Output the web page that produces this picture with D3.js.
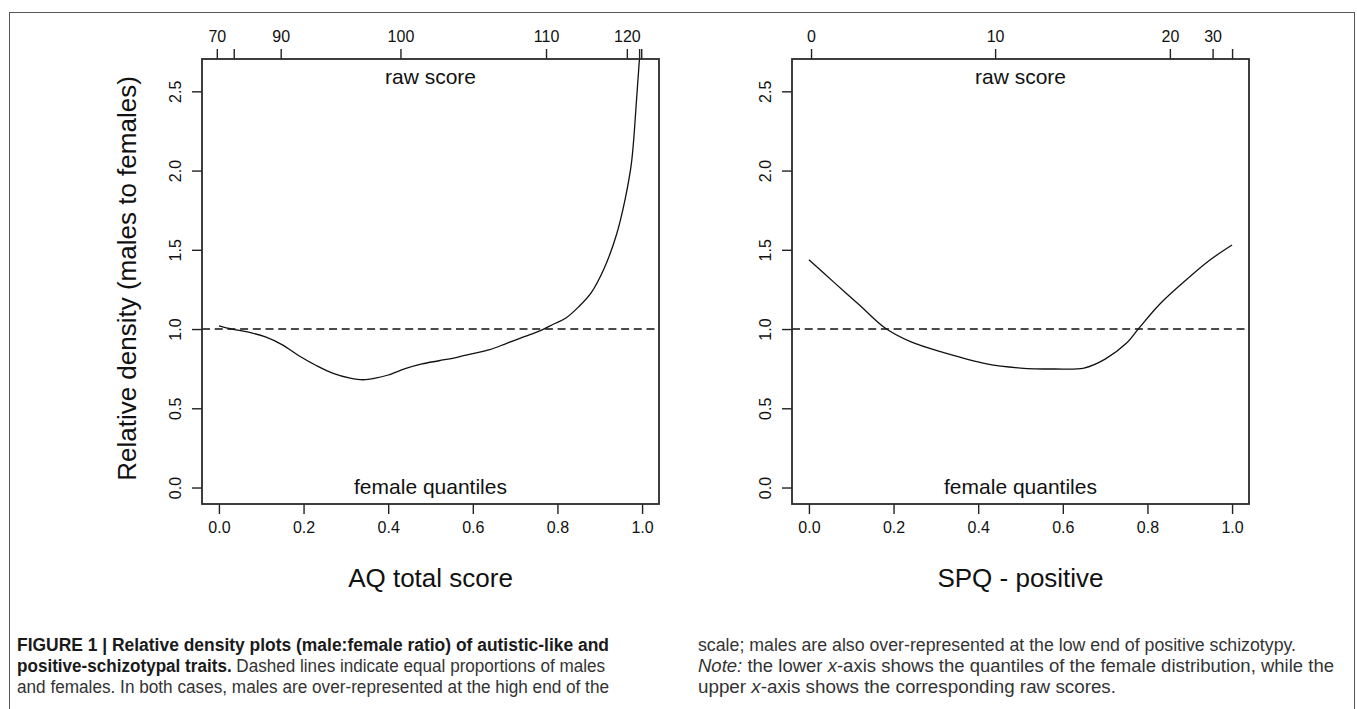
<!DOCTYPE html>
<html>
<head>
<meta charset="utf-8">
<script src="https://cdn.jsdelivr.net/npm/d3@7"></script>
<style>
  body { margin: 0; background: #fff; }
  svg { display: block; font-family: "Liberation Sans", Arial, Helvetica, sans-serif; }
  .tick text { font-size: 16px; fill: #111; }
  .tick line { stroke: #222; stroke-width: 1.4; }
  .caption { font-size: 17.5px; fill: #333; }
  .caption .bold { font-weight: bold; fill: #1a1a1a; }
</style>
</head>
<body>
<div id="chart"></div>
<script>
var svgWidth = 1357;
var svgHeight = 709;

// lower x-axis (female quantiles) and y-axis ticks
var quantileTicks = [0, 0.2, 0.4, 0.6, 0.8, 1.0];
var densityTicks = [0, 0.5, 1.0, 1.5, 2.0, 2.5];

// upper x-axis: raw scores and the quantile where each one falls
var aqRawTicks = [70, 80, 90, 100, 110, 120, 130, 140];
var aqRawPos = [-0.005, 0.035, 0.146, 0.429, 0.773, 0.964, 0.993, 0.998];
var spqRawTicks = [0, 10, 20, 30, 40];
var spqRawPos = [0.005, 0.44, 0.853, 0.954, 1.0];

// relative density curves
var aqQuantile = [0.00, 0.03, 0.07, 0.11, 0.15, 0.19, 0.23, 0.27, 0.31, 0.34, 0.37, 0.40,
  0.44, 0.48, 0.52, 0.56, 0.60, 0.64, 0.68, 0.72, 0.76, 0.79, 0.82, 0.85, 0.88, 0.91,
  0.94, 0.96, 0.975, 0.987, 0.995, 1.00];
var aqDensity = [1.02, 1.00, 0.98, 0.95, 0.90, 0.83, 0.77, 0.72, 0.69, 0.68, 0.69, 0.71,
  0.75, 0.78, 0.80, 0.82, 0.845, 0.87, 0.91, 0.95, 0.99, 1.03, 1.07, 1.14, 1.23, 1.38,
  1.60, 1.82, 2.05, 2.45, 2.75, 2.95];

var spqQuantile = [0.00, 0.06, 0.12, 0.18, 0.24, 0.32, 0.42, 0.50, 0.58, 0.65, 0.70,
  0.75, 0.78, 0.83, 0.90, 0.95, 1.00];
var spqDensity = [1.437, 1.293, 1.15, 1.006, 0.92, 0.85, 0.78, 0.754, 0.748, 0.754, 0.81,
  0.91, 1.006, 1.16, 1.33, 1.44, 1.53];

var svg = d3.select("#chart")
  .append("svg")
  .attr("width", svgWidth)
  .attr("height", svgHeight);

// figure frame
svg.append("rect")
  .attr("x", 9.5).attr("y", 12.5)
  .attr("width", 1345).attr("height", 720)
  .attr("fill", "none")
  .attr("stroke", "#555")
  .attr("stroke-width", 1);

// draws one relative density panel
function drawPanel(opts) {
  var box = opts.box;
  var g = svg.append("g");

  // R style 4% padding on both axes
  var x = d3.scaleLinear().domain([-0.04, 1.04]).range([box.x0, box.x1]);
  var y = d3.scaleLinear().domain([-0.104, 2.704]).range([box.y1, box.y0]);

  g.append("clipPath").attr("id", opts.id + "-clip")
    .append("rect")
    .attr("x", box.x0).attr("y", box.y0)
    .attr("width", box.x1 - box.x0).attr("height", box.y1 - box.y0);

  // lower axis
  var bottom = g.append("g")
    .attr("transform", `translate(0, ${box.y1})`)
    .call(d3.axisBottom(x).tickValues(quantileTicks).tickFormat(d3.format(".1f")).tickSize(10).tickPadding(8));
  bottom.select(".domain").remove();

  // upper axis, raw scores
  var top = g.append("g")
    .attr("transform", `translate(0, ${box.y0})`)
    .call(d3.axisTop(x).tickValues(opts.rawPos).tickFormat((d, i) => opts.rawTicks[i]).tickSize(10).tickPadding(7));
  top.select(".domain").remove();

  // hide raw labels that would collide, like R does
  var lastRight = -Infinity;
  top.selectAll(".tick text").each(function(d) {
    var w = this.getComputedTextLength();
    var cx = x(d);
    if (cx - w / 2 < lastRight + 12) {
      d3.select(this).remove();
    } else {
      lastRight = cx + w / 2;
    }
  });

  // y axis with labels parallel to the axis
  var left = g.append("g")
    .attr("transform", `translate(${box.x0}, 0)`)
    .call(d3.axisLeft(y).tickValues(densityTicks).tickFormat(d3.format(".1f")).tickSize(10));
  left.select(".domain").remove();
  left.selectAll(".tick text")
    .attr("transform", "rotate(-90)")
    .attr("x", 0)
    .attr("y", -21)
    .attr("dy", 0)
    .attr("text-anchor", "middle");

  // equal proportions reference line
  g.append("line")
    .attr("x1", box.x0).attr("x2", box.x1)
    .attr("y1", y(1)).attr("y2", y(1))
    .attr("stroke", "#111")
    .attr("stroke-width", 1.4)
    .attr("stroke-dasharray", "8,4.7");

  var line = d3.line()
    .x(d => x(d[0]))
    .y(d => y(d[1]))
    .curve(d3.curveCatmullRom.alpha(0.5));

  g.append("path")
    .datum(opts.q.map((q, i) => [q, opts.dens[i]]))
    .attr("clip-path", `url(#${opts.id}-clip)`)
    .attr("d", line)
    .attr("fill", "none")
    .attr("stroke", "#111")
    .attr("stroke-width", 1.3);

  // plot box
  g.append("rect")
    .attr("x", box.x0).attr("y", box.y0)
    .attr("width", box.x1 - box.x0).attr("height", box.y1 - box.y0)
    .attr("fill", "none")
    .attr("stroke", "#2a2a2a")
    .attr("stroke-width", 1.8);

  var cx = (box.x0 + box.x1) / 2;
  g.append("text")
    .attr("x", cx).attr("y", box.y0 + 25)
    .attr("text-anchor", "middle")
    .style("font-size", "21px").style("fill", "#111")
    .text("raw score");
  g.append("text")
    .attr("x", cx).attr("y", box.y1 - 10)
    .attr("text-anchor", "middle")
    .style("font-size", "21px").style("fill", "#111")
    .text("female quantiles");
  g.append("text")
    .attr("x", cx).attr("y", box.y1 + 83)
    .attr("text-anchor", "middle")
    .style("font-size", "26px").style("fill", "#111")
    .text(opts.title);

  if (opts.yTitle) {
    g.append("text")
      .attr("transform", `translate(${box.x0 - 66}, ${(box.y0 + box.y1) / 2 - 3}) rotate(-90)`)
      .attr("text-anchor", "middle")
      .style("font-size", "26px").style("fill", "#111")
      .text(opts.yTitle);
  }
}

drawPanel({
  id: "aq",
  box: {x0: 202, x1: 659, y0: 59, y1: 504},
  rawTicks: aqRawTicks, rawPos: aqRawPos,
  q: aqQuantile, dens: aqDensity,
  title: "AQ total score",
  yTitle: "Relative density (males to females)"
});

drawPanel({
  id: "spq",
  box: {x0: 792, x1: 1249, y0: 59, y1: 504},
  rawTicks: spqRawTicks, rawPos: spqRawPos,
  q: spqQuantile, dens: spqDensity,
  title: "SPQ - positive"
});

// caption, two columns
var caption = svg.append("g").attr("class", "caption");

function captionLine(xPos, yPos, len, parts) {
  var t = caption.append("text")
    .attr("x", xPos).attr("y", yPos)
    .attr("textLength", len)
    .attr("lengthAdjust", "spacingAndGlyphs");
  parts.forEach(function(p) {
    var s = t.append("tspan").text(p[0]);
    if (p[1] === "b") s.attr("class", "bold");
    if (p[1] === "i") s.style("font-style", "italic");
  });
}

captionLine(17, 651, 592, [["FIGURE 1 | Relative density plots (male:female ratio) of autistic-like and", "b"]]);
captionLine(17, 672, 588, [["positive-schizotypal traits.", "b"], [" Dashed lines indicate equal proportions of males", ""]]);
captionLine(17, 693, 592, [["and females. In both cases, males are over-represented at the high end of the", ""]]);

captionLine(698, 651, 598, [["scale; males are also over-represented at the low end of positive schizotypy.", ""]]);
captionLine(698, 672, 636, [["Note:", "i"], [" the lower ", ""], ["x", "i"], ["-axis shows the quantiles of the female distribution, while the", ""]]);
captionLine(698, 693, 418, [["upper ", ""], ["x", "i"], ["-axis shows the corresponding raw scores.", ""]]);
</script>
</body>
</html>
